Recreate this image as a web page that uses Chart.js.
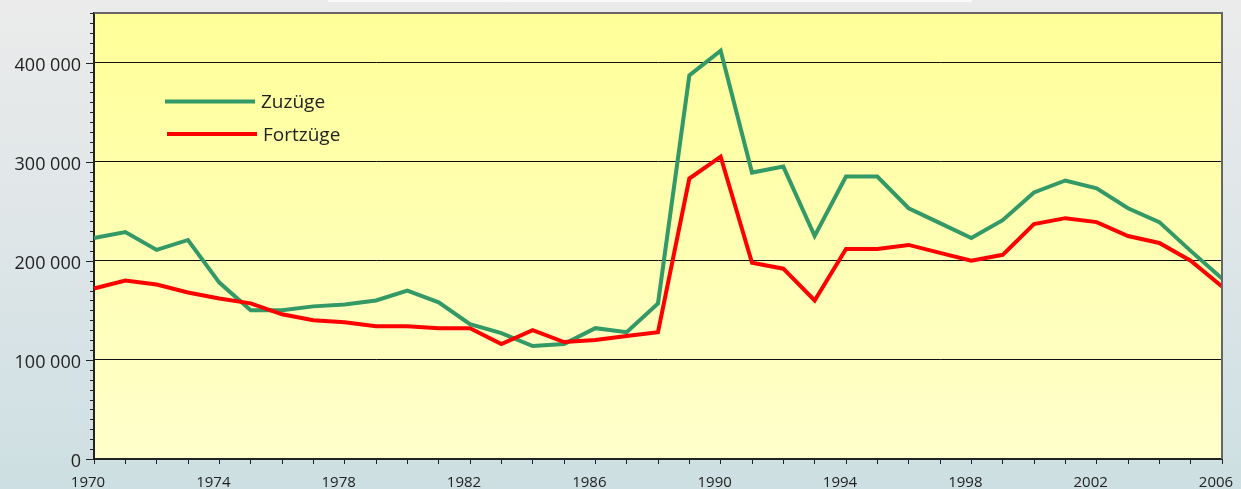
<!DOCTYPE html>
<html><head><meta charset="utf-8">
<script src="https://cdn.jsdelivr.net/npm/chart.js@4/dist/chart.umd.min.js"></script>
<style>
html,body{margin:0;padding:0;}
body{width:1241px;height:489px;overflow:hidden;background:linear-gradient(to bottom,#ebebeb 0%,#dfe6e8 45%,#cddfe2 100%);position:relative;}
#strip{position:absolute;left:328px;top:0;width:644px;height:2px;background:#fafafa;}
#wrap{position:absolute;left:0;top:0;width:1241px;height:489px;}
</style></head>
<body><div id="strip"></div><div id="wrap"><canvas id="c" width="1241" height="489"></canvas></div>
<script>
const years = [1970,1971,1972,1973,1974,1975,1976,1977,1978,1979,1980,1981,1982,1983,1984,1985,1986,1987,1988,1989,1990,1991,1992,1993,1994,1995,1996,1997,1998,1999,2000,2001,2002,2003,2004,2005,2006];
const zuzuege = [223000,229000,211000,221000,178000,150000,150000,154000,156000,160000,170000,158000,136000,127000,114000,116000,132000,128000,157000,387000,412000,289000,295000,225000,285000,285000,253000,238000,223000,241000,269000,281000,273000,253000,239000,210000,182000];
const fortzuege = [172000,180000,176000,168000,162000,157000,146000,140000,138000,134000,134000,132000,132000,116000,130000,118000,120000,124000,128000,283000,305000,198000,192000,160000,212000,212000,216000,208000,200000,206000,237000,243000,239000,225000,218000,200000,174000];
const seriesNames = ['Zuzüge','Fortzüge'];
const yLabelValues = [0,100000,200000,300000,400000];

function fmt(v){return String(v).replace(/\B(?=(\d{3})+(?!\d))/g,' ');}
function zeroPad(s){s.paddingLeft=0;s.paddingRight=0;s.paddingTop=0;s.paddingBottom=0;}

const bgPlugin = {
  id:'bg',
  beforeDraw(chart){
    const {ctx,chartArea:a}=chart;
    const g=ctx.createLinearGradient(0,a.top,0,a.bottom);
    g.addColorStop(0,'#ffff99');g.addColorStop(1,'#ffffcc');
    ctx.save();ctx.fillStyle=g;ctx.fillRect(a.left,a.top,a.right-a.left,a.bottom-a.top);ctx.restore();
  },
  afterDraw(chart){
    const {ctx,chartArea:a}=chart;
    const y=chart.scales.y;
    ctx.save();
    ctx.strokeStyle='#666';ctx.lineWidth=2;
    ctx.beginPath();ctx.moveTo(a.left,a.top);ctx.lineTo(a.right,a.top);ctx.lineTo(a.right,a.bottom);ctx.stroke();
    ctx.strokeStyle='#222';ctx.lineWidth=1;
    for(let v=0;v<=450000;v+=10000){
      const py=Math.round(y.getPixelForValue(v))+0.5;
      const len=(v%100000===0)?8:4;
      ctx.beginPath();ctx.moveTo(a.left-len,py);ctx.lineTo(a.left,py);ctx.stroke();
    }
    // legend
    const items=[{c:'#339966',x1:165,x2:255,y:101.5,tx:261,ty:103},{c:'#ff0000',x1:167,x2:257,y:134,tx:263,ty:136}];
    chart.data.datasets.forEach((ds,i)=>{
      const it=items[i];
      ctx.strokeStyle=it.c;ctx.lineWidth=4;ctx.lineCap='butt';
      ctx.beginPath();ctx.moveTo(it.x1,it.y);ctx.lineTo(it.x2,it.y);ctx.stroke();
      ctx.fillStyle='#222';ctx.font='19px "Open Sans"';ctx.textBaseline='middle';ctx.textAlign='left';
      ctx.fillText(ds.label,it.tx,it.ty);
    });
    ctx.restore();
  }
};

new Chart(document.getElementById('c'),{
  type:'line',
  data:{labels:years.map(String),datasets:[
    {label:seriesNames[0],data:zuzuege,borderColor:'#339966',borderWidth:4,pointRadius:0,tension:0,order:1,fill:false},
    {label:seriesNames[1],data:fortzuege,borderColor:'#ff0000',borderWidth:4,pointRadius:0,tension:0,order:0,fill:false}
  ]},
  options:{
    responsive:false,animation:false,
    layout:{padding:{top:13,right:19,left:0,bottom:0}},
    plugins:{legend:{display:false},tooltip:{enabled:false}},
    scales:{
      x:{type:'category',offset:false,
        afterFit(s){s.height=30;zeroPad(s);},
        grid:{drawOnChartArea:false,drawTicks:true,tickLength:5,tickColor:'#222',tickWidth:1},
        border:{color:'#222',width:2},
        ticks:{autoSkip:false,maxRotation:0,padding:10,labelOffset:-6,color:'#222',font:{family:'Open Sans',size:15},
          callback(v,i){return (i%4===0)?years[i]:'';}}
      },
      y:{min:0,max:450000,
        afterFit(s){s.width=94;zeroPad(s);},
        grid:{drawTicks:true,tickLength:8,tickColor:'transparent',
          color(c){return (c.tick && c.tick.value%100000===0 && c.tick.value>0 && c.tick.value<450000)?'#111':'transparent';},lineWidth:1},
        border:{color:'#222',width:2},
        ticks:{stepSize:10000,maxTicksLimit:100,autoSkip:false,padding:5,labelOffset:3,color:'#222',font:{family:'Open Sans',size:18},
          callback(v){return yLabelValues.includes(v)?fmt(v):'';}}
      }
    }
  },
  plugins:[bgPlugin]
});
</script></body></html>
